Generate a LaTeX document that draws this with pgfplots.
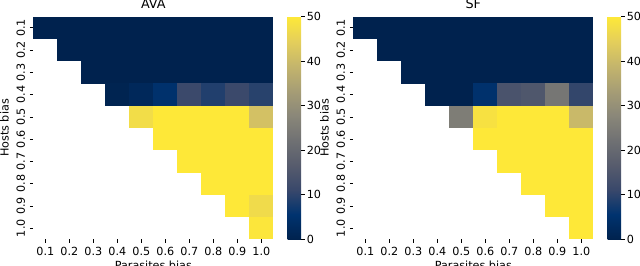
\documentclass[border=0pt]{standalone}
\usepackage{pgfplots}
\pgfplotsset{compat=1.18}
\usepackage{pgfplotstable}
\usepackage{fontspec}
\setmainfont{DejaVu Sans}
\pgfdeclareplotmark{cell}{\pgfpathrectangle{\pgfpoint{-9.1pt}{-8.45pt}}{\pgfpoint{18.2pt}{16.9pt}}\pgfusepathqfill}

\pgfplotstableread{
x y c
1 1 0
2 1 0
3 1 0
4 1 0
5 1 0
6 1 0
7 1 0
8 1 0
9 1 0
10 1 0
2 2 0
3 2 0
4 2 0
5 2 0
6 2 0
7 2 0
8 2 0
9 2 0
10 2 0
3 3 0
4 3 0
5 3 0
6 3 0
7 3 0
8 3 0
9 3 0
10 3 0
4 4 0.5
5 4 2
6 4 5
7 4 11.5
8 4 8.8
9 4 11.5
10 4 9.5
5 5 47.5
6 5 50
7 5 50
8 5 50
9 5 50
10 5 41.5
6 6 50
7 6 50
8 6 50
9 6 50
10 6 50
7 7 50
8 7 50
9 7 50
10 7 50
8 8 50
9 8 50
10 8 50
9 9 50
10 9 47
10 10 49.5
}\avatable

\pgfplotstableread{
x y c
1 1 0
2 1 0
3 1 0
4 1 0
5 1 0
6 1 0
7 1 0
8 1 0
9 1 0
10 1 0
2 2 0
3 2 0
4 2 0
5 2 0
6 2 0
7 2 0
8 2 0
9 2 0
10 2 0
3 3 0
4 3 0
5 3 0
6 3 0
7 3 0
8 3 0
9 3 0
10 3 0
4 4 0
5 4 0
6 4 5
7 4 14.3
8 4 15.2
9 4 23.5
10 4 10.5
5 5 25.2
6 5 48.5
7 5 50
8 5 50
9 5 50
10 5 39.8
6 6 50
7 6 50
8 6 50
9 6 50
10 6 50
7 7 50
8 7 50
9 7 50
10 7 50
8 8 50
9 8 50
10 8 50
9 9 50
10 9 50
10 10 50
}\sftable

\pgfplotsset{
  hm/.style={
    anchor=south west,
    scale only axis,
    width=180pt, height=167pt,
    xmin=0.5, xmax=10.5, ymin=0.5, ymax=10.5,
    y dir=reverse,
    axis line style={draw=none},
    xtick={1,...,10}, ytick={1,...,10},
    xticklabels={0.1,0.2,0.3,0.4,0.5,0.6,0.7,0.8,0.9,1.0},
    yticklabels={0.1,0.2,0.3,0.4,0.5,0.6,0.7,0.8,0.9,1.0},
    xtick pos=bottom, ytick pos=left,
    tick align=outside,
    major tick length=2.6pt,
    tick style={black, line width=0.5pt},
    ticklabel style={font=\fontsize{8.4}{9.5}\selectfont},
    yticklabel style={rotate=90, anchor=south},
    xlabel={Parasites bias}, ylabel={Hosts bias},
    xlabel style={yshift=3pt},
    ylabel style={yshift=-1pt},
    label style={font=\fontsize{8.4}{9.5}\selectfont},
    title style={font=\fontsize{9.6}{11}\selectfont, yshift=-3.5pt},
    colormap={cividis}{rgb255=(0,34,78) rgb255=(0,51,111) rgb255=(57,72,107) rgb255=(87,92,109) rgb255=(112,113,115) rgb255=(138,135,121) rgb255=(166,157,117) rgb255=(196,181,108) rgb255=(228,207,91) rgb255=(254,232,56)},
    point meta min=0, point meta max=50,
    colorbar,
    colorbar style={
      at={(parent axis.north east)}, anchor=north west,
      xshift=2.25pt,
      width=10pt,
      ytick={0,10,20,30,40,50},
      axis line style={draw=none},
      tick align=outside,
      major tick length=2.6pt,
      ytick pos=right,
      yticklabel pos=right,
      tick style={black, line width=0.5pt},
      /pgf/number format/assume math mode=true,
      yticklabel style={font=\fontsize{8.4}{9.5}\selectfont, rotate=0, anchor=west, xshift=-1.8pt},
    },
  }
}

\begin{document}
\begin{tikzpicture}
\useasboundingbox (0,0) rectangle (480pt,199.5pt);
\begin{axis}[hm, at={(25pt,20pt)}, title={AVA}]
\addplot[scatter, only marks, mark=cell, point meta=explicit] table[x=x, y=y, meta=c] {\avatable};
\end{axis}
\begin{axis}[hm, at={(265pt,20pt)}, title={SF}]
\addplot[scatter, only marks, mark=cell, point meta=explicit] table[x=x, y=y, meta=c] {\sftable};
\end{axis}
\end{tikzpicture}
\end{document}
